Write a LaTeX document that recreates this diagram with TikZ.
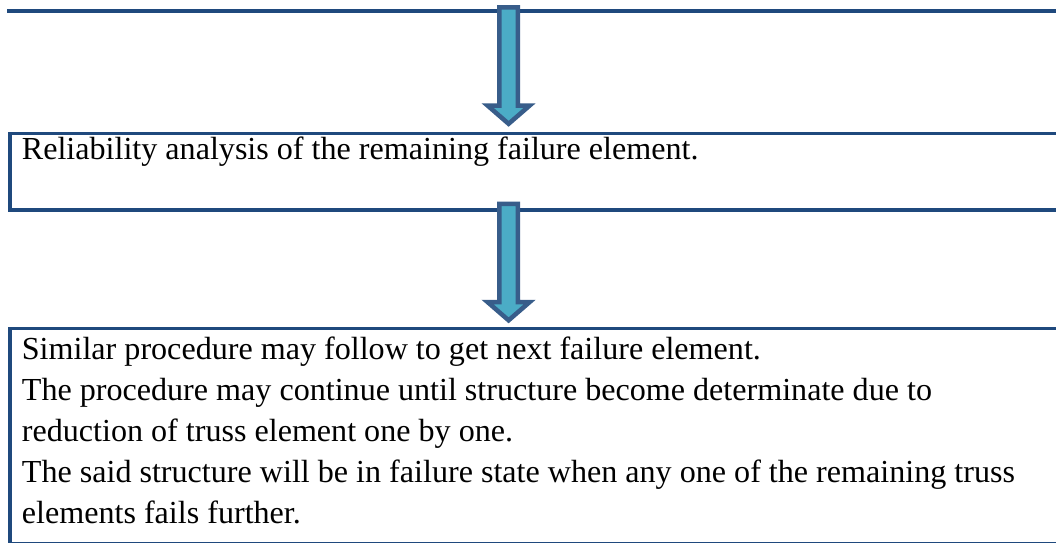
\documentclass[tikz,border=0pt]{standalone}
\usepackage{fontspec}
\setmainfont{Liberation Serif}
\usetikzlibrary{calc}
\definecolor{boxblue}{HTML}{1F497D}
\definecolor{arrowline}{HTML}{385D8A}
\definecolor{arrowfill}{HTML}{4BACC6}
\tikzset{
  boxline/.style={draw=boxblue, line width=3.8pt},
  boxnode/.style={boxline, rectangle, inner sep=0pt, anchor=north west},
  txt/.style={inner sep=0pt, anchor=base west, font=\fontsize{32.1}{41}\selectfont},
  arrowstyle/.style={draw=arrowline, fill=arrowfill, line width=4.5pt, line join=miter, miter limit=10}
}
\newcommand\blkarrow[1]{%
  \draw[arrowstyle] ($(#1)+(-9.3,0)$) -- ($(#1)+(-9.3,98.25)$) -- ($(#1)+(-21.1,98.25)$)
    -- ($(#1)+(0,116.55)$) -- ($(#1)+(21.1,98.25)$) -- ($(#1)+(9.3,98.25)$)
    -- ($(#1)+(9.3,0)$) -- cycle;}
\begin{document}
\begin{tikzpicture}[x=1pt,y=-1pt]
\useasboundingbox (0,0) rectangle (1056,542);
\clip (0,0) rectangle (1056,542);
\fill[white] (0,0) rectangle (1056,542);
% bottom edge of the box above
\coordinate (t0) at (7,11);
\coordinate (t1) at (1110,11);
\draw[boxline] (t0) -- (t1);
% box 2
\node[boxnode, minimum width=1100pt, minimum height=76.5pt] (b2) at (8,131.5) {};
\node[txt] (x2) at (21.7,159.2) {Reliability analysis of the remaining failure element.};
% box 3
\node[boxnode, minimum width=1100pt, minimum height=215.5pt] (b3) at (8,326.5) {};
\node[txt] (l1) at (21.7,359.5) {Similar procedure may follow to get next failure element.};
\node[txt] (l2) at (21.7,400.5) {The procedure may continue until structure become determinate due to};
\node[txt] (l3) at (21.7,441.5) {reduction of truss element one by one.};
\node[txt] (l4) at (21.7,482.5) {The said structure will be in failure state when any one of the remaining truss};
\node[txt] (l5) at (21.7,523.5) {elements fails further.};
% arrows
\coordinate (a1) at (508.6,7.25);
\coordinate (a2) at (508.6,203.75);
\blkarrow{a1}
\blkarrow{a2}
\end{tikzpicture}
\end{document}
